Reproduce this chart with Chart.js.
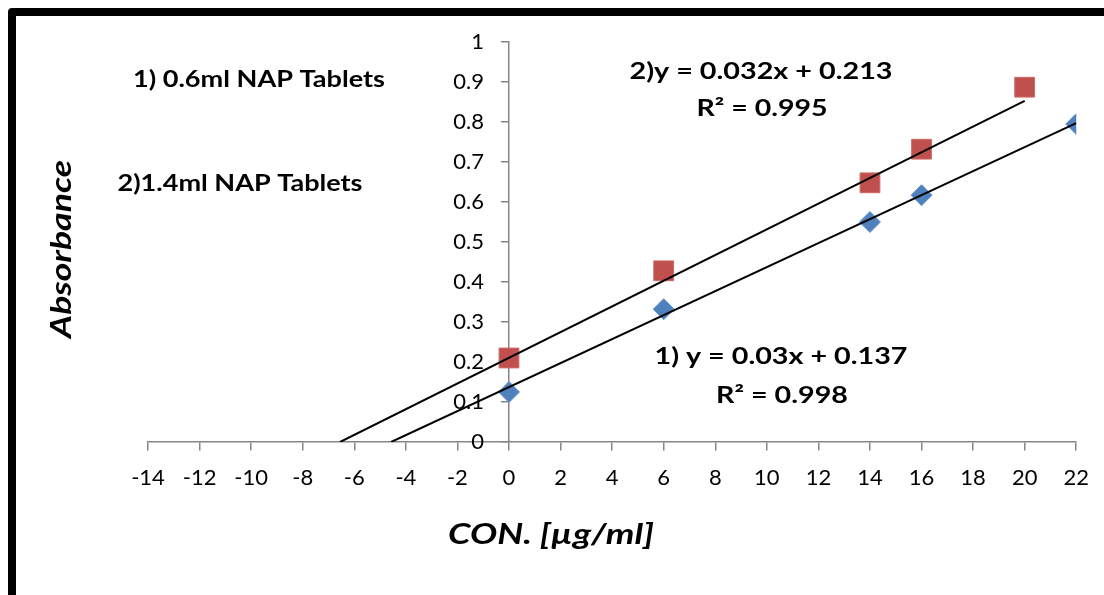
<!DOCTYPE html>
<html>
<head>
<meta charset="utf-8">
<script src="https://cdn.jsdelivr.net/npm/chart.js@4.4.1/dist/chart.umd.min.js"></script>
<style>
  html, body { margin: 0; padding: 0; background: #fff; }
  canvas { display: block; }
</style>
</head>
<body>
<canvas id="chart" width="1104" height="595"></canvas>
<script>
'use strict';

const concValues  = [0, 6, 14, 16, 22];
const absTablet1  = [0.125, 0.332, 0.55, 0.617, 0.795];   // 1) 0.6ml NAP Tablets
const concValues2 = [0, 6, 14, 16, 20];
const absTablet2  = [0.21, 0.428, 0.648, 0.732, 0.887];   // 2) 1.4ml NAP Tablets

// Trendline end points (backward forecast to y = 0)
const trend1X = [-4.57, 22];
const trend1Y = [0, 0.797];
const trend2X = [-6.55, 20];
const trend2Y = [0, 0.853];

// Axis ranges / ticks
const xMin = -14, xMax = 22, xStep = 2;
const yMin = 0,   yMax = 1,  yStep = 0.1;

const xTitle = 'CON. [µg/ml]';
const yTitle = 'Absorbance';

// text boxes: centre + width they take in the original
const notes = [
  { text: '1) 0.6ml NAP Tablets',  x: 259, y: 80,  w: 252 },
  { text: '2)1.4ml NAP Tablets',   x: 240, y: 184, w: 245 },
  { text: '2)y = 0.032x + 0.213',  x: 761, y: 72,  w: 263 },
  { text: 'R² = 0.995',            x: 762, y: 109, w: 131 },
  { text: '1) y = 0.03x + 0.137',  x: 781, y: 357, w: 253 },
  { text: 'R² = 0.998',            x: 782, y: 396, w: 132 },
];

const FONT = 'Lato, "Open Sans", sans-serif';
const AXIS_GREY = '#868686';

const pts = (xs, ys) => xs.map((x, i) => ({ x, y: ys[i] }));

// draw text centred at (x, y), stretched to width w
function fitText(ctx, text, x, y, w, font, angle) {
  ctx.save();
  ctx.font = font;
  const sx = w / ctx.measureText(text).width;
  ctx.translate(x, y);
  if (angle) ctx.rotate(angle);
  ctx.scale(sx, 1);
  ctx.fillText(text, 0, 0);
  ctx.restore();
}

// frame, titles and equation labels; also moves the y axis onto x = 0
const decorations = {
  id: 'decorations',
  afterLayout(chart) {
    // y scale takes no room in the layout; park it on x = 0
    // (left edge kept wide so the tick labels aren't clipped)
    const y = chart.scales.y;
    const x0 = chart.scales.x.getPixelForValue(0);
    y.left = x0 - 120;
    y.right = x0;
  },
  beforeDraw(chart) {
    const ctx = chart.ctx;
    ctx.save();
    ctx.fillStyle = '#fff';
    ctx.fillRect(0, 0, chart.width, chart.height);
    ctx.strokeStyle = '#000';
    ctx.lineWidth = 8;
    ctx.lineJoin = 'round';
    ctx.beginPath();
    ctx.moveTo(12, chart.height + 10);
    ctx.lineTo(12, 12);
    ctx.lineTo(chart.width + 10, 12);
    ctx.stroke();
    ctx.restore();
  },
  afterDraw(chart) {
    const ctx = chart.ctx;
    ctx.save();
    ctx.fillStyle = '#000';
    ctx.textAlign = 'center';
    ctx.textBaseline = 'middle';
    for (const n of notes) fitText(ctx, n.text, n.x, n.y, n.w, 'bold 23px ' + FONT);
    fitText(ctx, xTitle, 551, 535, 206, 'italic bold 29px ' + FONT);
    fitText(ctx, yTitle, 62, 249, 178, 'italic bold 28px ' + FONT, -Math.PI / 2);
    ctx.restore();
  },
};

new Chart(document.getElementById('chart'), {
  type: 'scatter',
  data: {
    datasets: [
      {
        label: 'trend 1',
        data: pts(trend1X, trend1Y),
        showLine: true,
        borderColor: '#000',
        borderWidth: 2,
        pointRadius: 0,
        order: 0,
      },
      {
        label: 'trend 2',
        data: pts(trend2X, trend2Y),
        showLine: true,
        borderColor: '#000',
        borderWidth: 2,
        pointRadius: 0,
        order: 0,
      },
      {
        label: '1) 0.6ml NAP Tablets',
        data: pts(concValues, absTablet1),
        pointStyle: 'rectRot',
        pointRadius: 10.5,
        backgroundColor: '#4F81BD',
        borderColor: '#6a95c9',
        borderWidth: 1,
        order: 1,
      },
      {
        label: '2)1.4ml NAP Tablets',
        data: pts(concValues2, absTablet2),
        pointStyle: 'rect',
        pointRadius: 14,
        backgroundColor: '#C0504D',
        borderColor: '#cc6a67',
        borderWidth: 1,
        order: 1,
      },
    ],
  },
  options: {
    responsive: false,
    animation: false,
    layout: { padding: { left: 148, right: 26, top: 42, bottom: 153 } },
    plugins: {
      legend: { display: false },
      tooltip: { enabled: false },
    },
    scales: {
      x: {
        type: 'linear',
        position: { y: 0 },
        min: xMin, max: xMax,
        afterFit: s => { s.height = 0; },
        ticks: { stepSize: xStep, color: '#000', font: { family: FONT, size: 22 }, padding: 15 },
        grid: { drawOnChartArea: false, tickLength: 8, color: AXIS_GREY, lineWidth: 1.5 },
        border: { color: AXIS_GREY, width: 1.5 },
      },
      y: {
        type: 'linear',
        position: 'left',
        min: yMin, max: yMax,
        afterFit: s => { s.width = 0; },
        ticks: {
          stepSize: yStep, color: '#000', font: { family: FONT, size: 22 }, padding: 17,
          callback: v => String(+v.toFixed(1)),
        },
        grid: { drawOnChartArea: false, tickLength: 8, color: AXIS_GREY, lineWidth: 1.5 },
        border: { color: AXIS_GREY, width: 1.5 },
      },
    },
  },
  plugins: [decorations],
});
</script>
</body>
</html>
